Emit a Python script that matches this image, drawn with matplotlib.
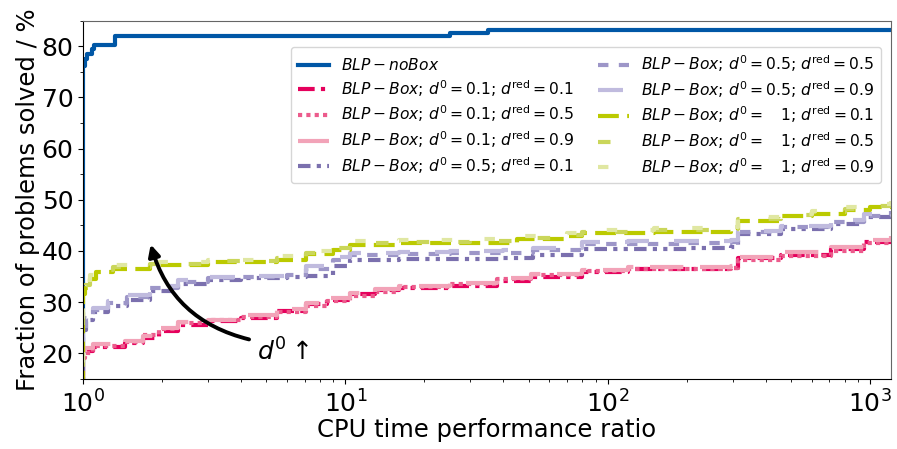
import numpy as np
import matplotlib.pyplot as plt

# performance profile data (ratio, % solved)
x_nobox = [1.0, 1.0, 1.02, 1.04, 1.08, 1.10, 1.30, 1.33, 25, 35, 1200]
y_nobox = [0.0, 76.2, 77.5, 78.5, 79.5, 80.2, 80.2, 82.0, 82.5, 83.2, 83.2]

x_low = [1.0, 1.0, 1.02, 1.09, 1.45, 1.7, 1.95, 2.3, 3.0, 4.0, 5.5, 7.1, 8.5, 10.4, 13, 16, 25, 38, 51, 80, 120, 295, 314, 460, 710, 950, 1200]
y_low_01 = [0.0, 19.5, 20.5, 21.3, 22.0, 23.0, 24.4, 25.6, 26.3, 26.9, 28.2, 29.6, 30.5, 31.5, 32.3, 32.8, 33.2, 34.2, 35.0, 35.8, 36.5, 36.7, 38.6, 39.3, 40.3, 41.8, 42.7]
y_low_05 = [0.0, 19.0, 20.0, 21.5, 22.3, 23.5, 24.8, 25.9, 26.6, 27.1, 28.0, 29.3, 30.2, 31.2, 32.0, 32.9, 33.5, 34.5, 35.3, 36.0, 36.4, 36.6, 38.3, 39.0, 40.0, 41.5, 42.4]
y_low_09 = [0.0, 19.8, 21.0, 21.8, 22.5, 23.3, 25.0, 26.2, 26.6, 27.4, 28.6, 29.9, 30.8, 31.7, 32.6, 33.2, 33.8, 34.8, 35.5, 36.2, 36.8, 37.0, 38.9, 39.8, 40.8, 42.2, 43.0]

x_mid = [1.0, 1.0, 1.03, 1.09, 1.25, 1.47, 1.8, 2.3, 3.0, 4.0, 6.0, 7.1, 9.0, 10.4, 16, 25, 40, 52, 80, 120, 200, 295, 314, 460, 710, 950, 1200]
y_mid_01 = [0.0, 24.5, 26.5, 28.0, 29.2, 30.5, 32.2, 33.6, 34.4, 34.8, 35.0, 35.2, 37.0, 38.2, 38.4, 38.5, 38.6, 39.2, 40.3, 40.4, 40.5, 40.7, 43.4, 44.2, 45.3, 46.6, 47.4]
y_mid_05 = [0.0, 25.0, 27.0, 28.5, 29.8, 31.0, 32.7, 34.0, 34.7, 35.0, 35.3, 36.5, 38.3, 39.3, 39.5, 39.6, 39.7, 40.1, 41.3, 41.4, 41.5, 41.7, 43.8, 44.6, 45.6, 46.9, 47.8]
y_mid_09 = [0.0, 25.8, 27.4, 28.9, 30.2, 31.4, 33.1, 34.3, 34.9, 35.2, 35.6, 37.0, 38.8, 39.6, 39.8, 40.0, 40.1, 40.5, 41.8, 41.9, 42.0, 42.1, 44.0, 44.9, 46.0, 47.2, 48.0]

x_high = [1.0, 1.0, 1.02, 1.06, 1.12, 1.3, 1.8, 3.0, 5.5, 7.1, 9.0, 10.4, 16, 30, 45, 70, 80, 150, 295, 314, 460, 600, 800, 1000, 1200]
y_high_01 = [0.0, 31.5, 32.8, 34.5, 35.8, 36.5, 37.2, 37.8, 38.3, 39.4, 40.2, 41.2, 41.5, 41.6, 42.3, 42.9, 43.5, 43.8, 44.0, 45.8, 46.8, 47.3, 48.0, 48.5, 49.0]
y_high_05 = [0.0, 32.0, 33.3, 35.0, 36.2, 36.8, 37.5, 38.0, 38.6, 39.7, 40.6, 41.5, 41.8, 41.9, 42.6, 43.2, 43.7, 44.1, 44.3, 46.2, 47.0, 47.6, 48.3, 48.8, 49.3]
y_high_09 = [0.0, 32.5, 33.8, 35.4, 36.6, 37.2, 37.8, 38.3, 39.0, 40.0, 41.0, 41.9, 42.2, 42.3, 43.0, 43.5, 44.1, 44.4, 44.6, 46.6, 47.3, 47.9, 48.6, 49.2, 49.7]

fig, ax = plt.subplots(figsize=(8.97, 4.49), dpi=100)
fig.subplots_adjust(left=0.0925, right=0.993, top=0.954, bottom=0.156)

lw = 3
ax.plot(x_nobox, y_nobox, drawstyle='steps-post', color='#0057a6', lw=lw, ls='-',
        label=r'$BLP-noBox$')

series = [
    (x_low, y_low_01, '#e5005c', (0, (4, 1.5, 1, 1.5)), '0.1', '0.1'),
    (x_low, y_low_05, '#ec5b8c', (0, (1, 1)), '0.1', '0.5'),
    (x_low, y_low_09, '#f2a3b8', (0, (8, 4)), '0.1', '0.9'),
    (x_mid, y_mid_01, '#7b70ae', (0, (3, 1.5, 1, 1.5, 1, 1.5)), '0.5', '0.1'),
    (x_mid, y_mid_05, '#9d96c8', (0, (2.5, 2.5)), '0.5', '0.5'),
    (x_mid, y_mid_09, '#c0bbde', (0, (6, 6)), '0.5', '0.9'),
    (x_high, y_high_01, '#bbca00', (0, (5, 2)), r'\ \ \ 1', '0.1'),
    (x_high, y_high_05, '#cad65a', (0, (3, 7)), r'\ \ \ 1', '0.5'),
    (x_high, y_high_09, '#e0e7a2', (0, (2.5, 8)), r'\ \ \ 1', '0.9'),
]
for xs, ys, col, dash, d0, dred in series:
    lab = r'$BLP-Box$; $d^0=' + d0 + r'$; $d^{\rm red}=' + dred + '$'
    ax.plot(xs, ys, drawstyle='steps-post', color=col, lw=lw, ls=dash, label=lab)

ax.set_xscale('log')
ax.set_xlim(1, 1200)
ax.set_ylim(15, 85)
ax.set_yticks(np.arange(20, 81, 10))
ax.set_yticks(np.arange(15, 86, 5), minor=True)
ax.tick_params(labelsize=18)
ax.tick_params(axis='x', which='major', pad=5)
ax.set_xlabel('CPU time performance ratio', fontsize=17.5, labelpad=0)
ax.set_ylabel('Fraction of problems solved / %', fontsize=17.5, labelpad=1)
for s in ['top', 'right']:
    ax.spines[s].set_color('#666666')

ax.annotate('', xy=(1.8, 41.8), xytext=(4.4, 22.6),
            arrowprops=dict(arrowstyle='-|>', color='black', lw=2.8,
                            mutation_scale=17,
                            connectionstyle='arc3,rad=-0.3'))
ax.text(4.6, 20.3, r'$d^0\uparrow$', fontsize=18, ha='left', va='center')

ax.legend(loc='upper right', ncol=2, fontsize=11.2, bbox_to_anchor=(0.998, 0.948),
          columnspacing=1.5, labelspacing=0.32)

fig.savefig('out.png', dpi=100)
